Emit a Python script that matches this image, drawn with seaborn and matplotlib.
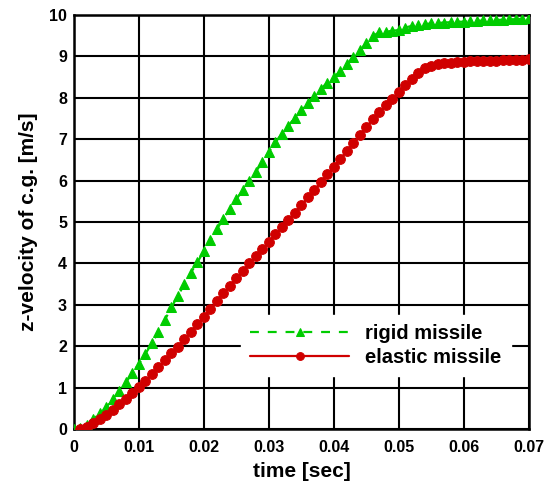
import numpy as np
import pandas as pd
import matplotlib
matplotlib.use("Agg")
import matplotlib.pyplot as plt
import seaborn as sns

# time samples [sec]
t_rigid = [i / 1000 for i in range(0, 71)]
t_elastic = [i / 1000 for i in range(1, 71)]

# z-velocity of the centre of gravity [m/s]
v_rigid = [0.00, 0.03, 0.10, 0.24, 0.38, 0.54, 0.72, 0.92, 1.13, 1.35,
           1.58, 1.82, 2.07, 2.35, 2.64, 2.94, 3.22, 3.50, 3.78, 4.03,
           4.30, 4.57, 4.83, 5.08, 5.32, 5.55, 5.78, 6.00, 6.22, 6.45,
           6.70, 6.93, 7.13, 7.33, 7.52, 7.70, 7.88, 8.05, 8.22, 8.37,
           8.50, 8.65, 8.82, 8.98, 9.15, 9.32, 9.50, 9.58, 9.60, 9.62,
           9.64, 9.70, 9.74, 9.76, 9.78, 9.80, 9.81, 9.82, 9.83, 9.84,
           9.84, 9.85, 9.86, 9.87, 9.88, 9.88, 9.89, 9.90, 9.90, 9.91,
           9.92]
v_elastic = [0.00, 0.06, 0.14, 0.24, 0.34, 0.46, 0.60, 0.73, 0.88, 1.02,
             1.17, 1.33, 1.50, 1.66, 1.83, 1.99, 2.17, 2.35, 2.53, 2.71,
             2.90, 3.10, 3.28, 3.46, 3.64, 3.82, 4.00, 4.18, 4.35, 4.52,
             4.70, 4.87, 5.05, 5.23, 5.41, 5.60, 5.78, 5.96, 6.15, 6.34,
             6.53, 6.72, 6.91, 7.10, 7.30, 7.48, 7.65, 7.82, 7.98, 8.15,
             8.30, 8.45, 8.60, 8.71, 8.78, 8.82, 8.84, 8.85, 8.86, 8.87,
             8.88, 8.88, 8.89, 8.90, 8.90, 8.91, 8.91, 8.92, 8.92, 8.93]

x_ticks = [0, 0.01, 0.02, 0.03, 0.04, 0.05, 0.06, 0.07]
x_tick_labels = ["0", "0.01", "0.02", "0.03", "0.04", "0.05", "0.06", "0.07"]
y_ticks = list(range(0, 11))

sns.set_theme(style="white")
plt.rcParams["font.family"] = ["Liberation Sans", "DejaVu Sans"]
plt.rcParams["font.weight"] = "bold"
plt.rcParams["text.color"] = "black"
plt.rcParams["axes.labelcolor"] = "black"
plt.rcParams["xtick.color"] = "black"
plt.rcParams["ytick.color"] = "black"

GREEN = "#00cc00"
RED = "#d00000"

fig = plt.figure(figsize=(5.44, 4.87), dpi=100)
ax = fig.add_axes([0.136, 0.119, 0.836, 0.850])

rigid = pd.DataFrame({"t": t_rigid, "v": v_rigid})
elastic = pd.DataFrame({"t": t_elastic, "v": v_elastic})

sns.lineplot(data=rigid, x="t", y="v", ax=ax, color=GREEN,
             linewidth=1.6, dashes=(4.0, 4.0), marker="^", markersize=7.5,
             markeredgecolor=GREEN, label="rigid missile", zorder=3)
sns.lineplot(data=elastic, x="t", y="v", ax=ax, color=RED, linestyle="-",
             linewidth=1.6, marker="o", markersize=7, markeredgecolor=RED,
             label="elastic missile", zorder=4)

ax.set_xlim(0, 0.07)
ax.set_ylim(0, 10)
ax.set_xticks(x_ticks)
ax.set_xticklabels(x_tick_labels)
ax.set_yticks(y_ticks)
ax.grid(True, color="black", linewidth=1.5)
ax.set_axisbelow(True)
for s in ax.spines.values():
    s.set_color("black")
    s.set_linewidth(1.8)
ax.tick_params(axis="both", length=0, labelsize=11.5, labelcolor="black")
ax.tick_params(axis="x", pad=8)
ax.tick_params(axis="y", pad=5)
for lab in ax.get_xticklabels() + ax.get_yticklabels():
    lab.set_fontweight("bold")

ax.set_xlabel("time [sec]", fontsize=15, fontweight="bold", labelpad=5,
              color="black")
ax.set_ylabel("z-velocity of c.g. [m/s]", fontsize=15, fontweight="bold",
              labelpad=8, color="black")

leg = ax.legend(loc="lower right", bbox_to_anchor=(0.96, 0.127),
                borderaxespad=0.0,
                frameon=True, fancybox=False, framealpha=1.0,
                edgecolor="white", facecolor="white",
                prop={"weight": "bold", "size": 14.5},
                handlelength=4.9, handletextpad=0.8, labelspacing=0.25,
                borderpad=0.45, markerscale=0.8)
for txt in leg.get_texts():
    txt.set_color("black")
leg.set_zorder(5)

fig.savefig("out.png", dpi=100)
